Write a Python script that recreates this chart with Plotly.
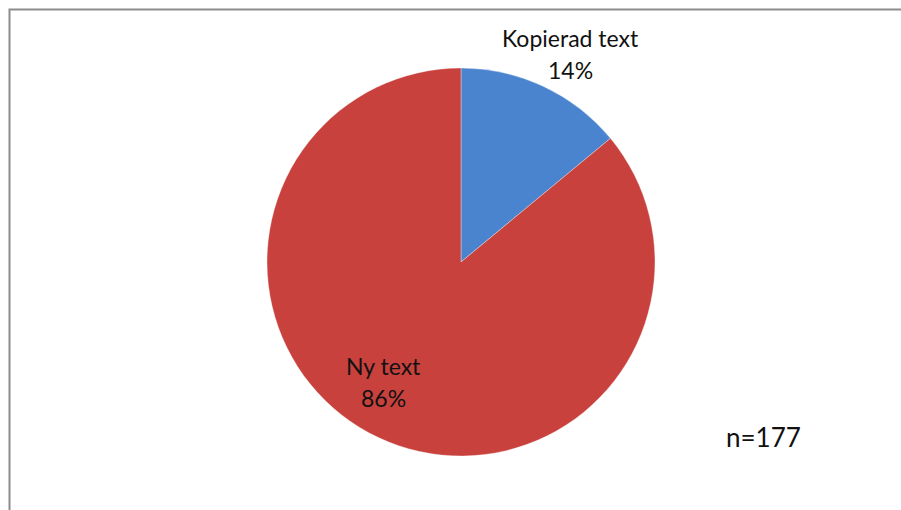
import plotly.graph_objects as go

# Share of texts: copied vs. newly written
categories = ["Kopierad text", "Ny text"]
shares = [14, 86]
slice_colors = ["#4a83ce", "#c8413d"]
sample_note = "n=177"

W, H = 901, 510
cx, cy, r = 461, 262, 194

fig = go.Figure(
    go.Pie(
        labels=categories,
        values=shares,
        sort=False,
        direction="clockwise",
        rotation=0,
        marker=dict(colors=slice_colors, line=dict(color="rgba(255,255,255,0.35)", width=1)),
        textinfo="none",
        hoverinfo="label+percent",
        domain=dict(x=[(cx - r) / W, (cx + r) / W], y=[1 - (cy + r) / H, 1 - (cy - r) / H]),
        showlegend=False,
    )
)

font = dict(family="Lato, Carlito, 'Open Sans', sans-serif", size=23, color="#111111")


def px_ann(x, y, text, size=23):
    return dict(
        x=x / W, y=1 - y / H, xref="paper", yref="paper", text=text,
        showarrow=False, xanchor="center", yanchor="middle",
        font=dict(font, size=size), align="center",
    )


annotations = [
    px_ann(570, 38, categories[0]),
    px_ann(570, 70, f"{shares[0]}%"),
    px_ann(383, 366, categories[1]),
    px_ann(383, 398, f"{shares[1]}%"),
    px_ann(763, 437, sample_note, size=26),
]

fig.update_layout(
    width=W, height=H,
    margin=dict(l=0, r=0, t=0, b=0),
    paper_bgcolor="white", plot_bgcolor="white",
    annotations=annotations,
    shapes=[
        dict(type="rect", xref="paper", yref="paper",
             x0=9.5 / W, x1=1.05, y0=-0.05, y1=1 - 9.5 / H,
             line=dict(color="#8c8c8c", width=2), fillcolor="rgba(0,0,0,0)", layer="below"),
    ],
)

fig.write_html("out.html")
